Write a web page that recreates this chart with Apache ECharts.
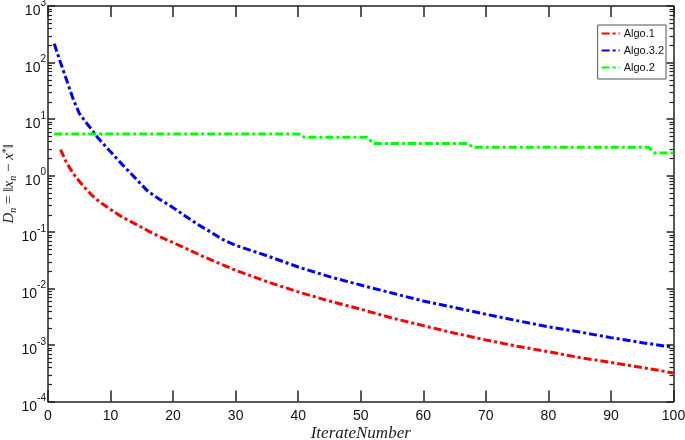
<!DOCTYPE html>
<html>
<head>
<meta charset="utf-8">
<script src="https://cdn.jsdelivr.net/npm/echarts@6/dist/echarts.min.js"></script>
<style>
html, body { margin: 0; padding: 0; background: #fff; }
#chart { width: 685px; height: 440px; }
</style>
</head>
<body>
<div id="chart"></div>
<script>
// values (log y axis)
const algo1X = [2, 3, 4, 5, 6, 7, 8, 10, 12, 14, 16, 18, 20, 25, 30, 35, 40, 45, 50, 55, 60, 65, 70, 75, 80, 85, 90, 95, 100]
const algo1Y = [2.88, 1.66, 1.10, 0.79, 0.59, 0.45, 0.36, 0.25, 0.18, 0.138, 0.105, 0.081, 0.065, 0.036, 0.021, 0.0132, 0.0087, 0.006, 0.0043, 0.003, 0.0022, 0.00162, 0.00123, 0.00095, 0.00076, 0.0006, 0.00049, 0.0004, 0.00032]

const algo32X = [1, 2, 3, 4, 5, 6, 7, 8, 10, 12, 14, 16, 18, 20, 22, 24, 26, 28, 30, 35, 40, 45, 50, 55, 60, 65, 70, 75, 80, 85, 90, 95, 100]
const algo32Y = [214, 100, 47.9, 22.9, 12.6, 8.9, 6.5, 4.6, 2.63, 1.51, 0.89, 0.52, 0.37, 0.27, 0.19, 0.135, 0.1, 0.073, 0.058, 0.038, 0.024, 0.0162, 0.0115, 0.0083, 0.006, 0.0046, 0.0035, 0.0027, 0.0021, 0.0017, 0.00135, 0.0011, 0.00091]

const algo2X = [1, 40, 41, 51, 52, 67, 68, 96, 97, 100]
const algo2Y = [5.45, 5.45, 4.75, 4.75, 3.7, 3.7, 3.15, 3.15, 2.5, 2.5]

const seriesNames = ['Algo.1', 'Algo.3.2', 'Algo.2']
const seriesColors = ['#ff0000', '#0000ff', '#00ff00']

// minor tick values (2..9 of each decade)
const decades = [-4, -3, -2, -1, 0, 1, 2]
const minorTicks = []
decades.forEach(function (d) {
	for (let k = 2; k <= 9; k++) minorTicks.push(k * Math.pow(10, d))
})

function zip(xs, ys) {
	return xs.map(function (x, i) { return [x, ys[i]] })
}

const axisColor = '#222'
const dash = [8, 3, 3, 3]

function lineSeries(name, color, xs, ys) {
	return {
		name: name,
		type: 'line',
		data: zip(xs, ys),
		symbol: 'none',
		showSymbol: false,
		color: color,
		lineStyle: { color: color, width: 3, type: dash },
		z: 3,
	}
}

const chart = echarts.init(document.getElementById('chart'), null, { renderer: 'canvas' })

const option = {
	backgroundColor: '#fff',
	animation: false,
	grid: { left: 48, right: 11.5, top: 6, bottom: 38.5, containLabel: false, outerBoundsMode: 'none' },
	legend: {
		data: seriesNames,
		orient: 'vertical',
		right: 19,
		top: 25,
		backgroundColor: '#fff',
		borderColor: '#555',
		borderWidth: 1,
		borderRadius: 0,
		padding: [3, 2, 6, 3],
		itemGap: 6,
		itemWidth: 18,
		itemHeight: 12,
		itemStyle: { opacity: 0 },
		textStyle: { fontFamily: 'Liberation Sans, Arial', fontSize: 11, color: '#111', padding: [0, 0, 0, -1] },
	},
	xAxis: [
		{
			type: 'value',
			min: 0,
			max: 100,
			interval: 10,
			name: 'IterateNumber',
			nameLocation: 'middle',
			nameGap: 24,
			nameMoveOverlap: false,
			nameTextStyle: { fontFamily: 'Liberation Serif, Times New Roman', fontStyle: 'italic', fontSize: 17, color: '#222' },
			axisLine: { onZero: false, lineStyle: { color: axisColor, width: 1.5 } },
			axisTick: { show: true, inside: true, length: 11, lineStyle: { color: axisColor, width: 1.5 } },
			axisLabel: { margin: 8, fontFamily: 'Liberation Sans, Arial', fontSize: 14, color: '#111' },
			splitLine: { show: false },
		},
		{
			type: 'value',
			position: 'top',
			min: 0,
			max: 100,
			interval: 10,
			axisLine: { onZero: false, lineStyle: { color: axisColor, width: 1.5 } },
			axisTick: { show: true, inside: true, length: 11, lineStyle: { color: axisColor, width: 1.5 } },
			axisLabel: { show: false },
			splitLine: { show: false },
		},
	],
	yAxis: [
		{
			type: 'log',
			logBase: 10,
			min: 1e-4,
			max: 1e3,
			splitNumber: 7,
			name: '{i|D}{sub|n}{n| = ‖}{i|x}{sub|n}{n| − }{i|x}{sup|*}{n|‖}',
			nameLocation: 'middle',
			nameRotate: 90,
			nameGap: 30,
			nameMoveOverlap: false,
			nameTextStyle: {
				color: '#222',
				padding: [0, 0, 0, 40],
				rich: {
					i: { fontFamily: 'Liberation Serif', fontStyle: 'italic', fontSize: 15, color: '#222' },
					n: { fontFamily: 'Liberation Serif', fontSize: 15, color: '#222' },
					sub: { fontFamily: 'Liberation Serif', fontStyle: 'italic', fontSize: 10, color: '#222', padding: [7, 0, 0, 0] },
					sup: { fontFamily: 'Liberation Serif', fontSize: 10, color: '#222', padding: [0, 0, 7, 0] },
				},
			},
			axisLine: { onZero: false, lineStyle: { color: axisColor, width: 1.5 } },
			axisTick: { show: true, inside: true, length: 7, lineStyle: { color: axisColor, width: 1.5 } },
			axisLabel: {
				margin: 2,
				formatter: function (v) {
					return '{b|10}{s|' + Math.round(Math.log10(v)) + '}'
				},
				rich: {
					b: { fontFamily: 'Liberation Sans, Arial', fontSize: 14, color: '#111', padding: [11, 0, 0, 0] },
					s: { fontFamily: 'Liberation Sans, Arial', fontSize: 10, color: '#111', padding: [0, 0, 6, 0] },
				},
			},
			splitLine: { show: false },
			minorTick: { show: false },
		},
		{
			type: 'log',
			logBase: 10,
			min: 1e-4,
			max: 1e3,
			splitNumber: 7,
			position: 'right',
			axisLine: { onZero: false, lineStyle: { color: axisColor, width: 1.5 } },
			axisTick: { show: true, inside: true, length: 7, lineStyle: { color: axisColor, width: 1.5 } },
			axisLabel: { show: false },
			splitLine: { show: false },
		},
	],
	series: [
		lineSeries(seriesNames[0], seriesColors[0], algo1X, algo1Y),
		lineSeries(seriesNames[1], seriesColors[1], algo32X, algo32Y),
		lineSeries(seriesNames[2], seriesColors[2], algo2X, algo2Y),
		{
			// minor log ticks on left and right edges
			type: 'custom',
			silent: true,
			clip: false,
			z: 4,
			data: minorTicks.map(function (v) { return [50, v] }),
			renderItem: function (params, api) {
				const v = api.value(1)
				const p = api.coord([50, v])
				const y = Math.round(p[1]) + 0.5
				const x0 = params.coordSys.x
				const x1 = params.coordSys.x + params.coordSys.width
				return {
					type: 'group',
					children: [
						{ type: 'line', shape: { x1: x0, y1: y, x2: x0 + 4, y2: y }, style: { stroke: axisColor, lineWidth: 1.2 } },
						{ type: 'line', shape: { x1: x1, y1: y, x2: x1 - 4, y2: y }, style: { stroke: axisColor, lineWidth: 1.2 } },
					],
				}
			},
		},
	],
}

chart.setOption(option)
</script>
</body>
</html>
